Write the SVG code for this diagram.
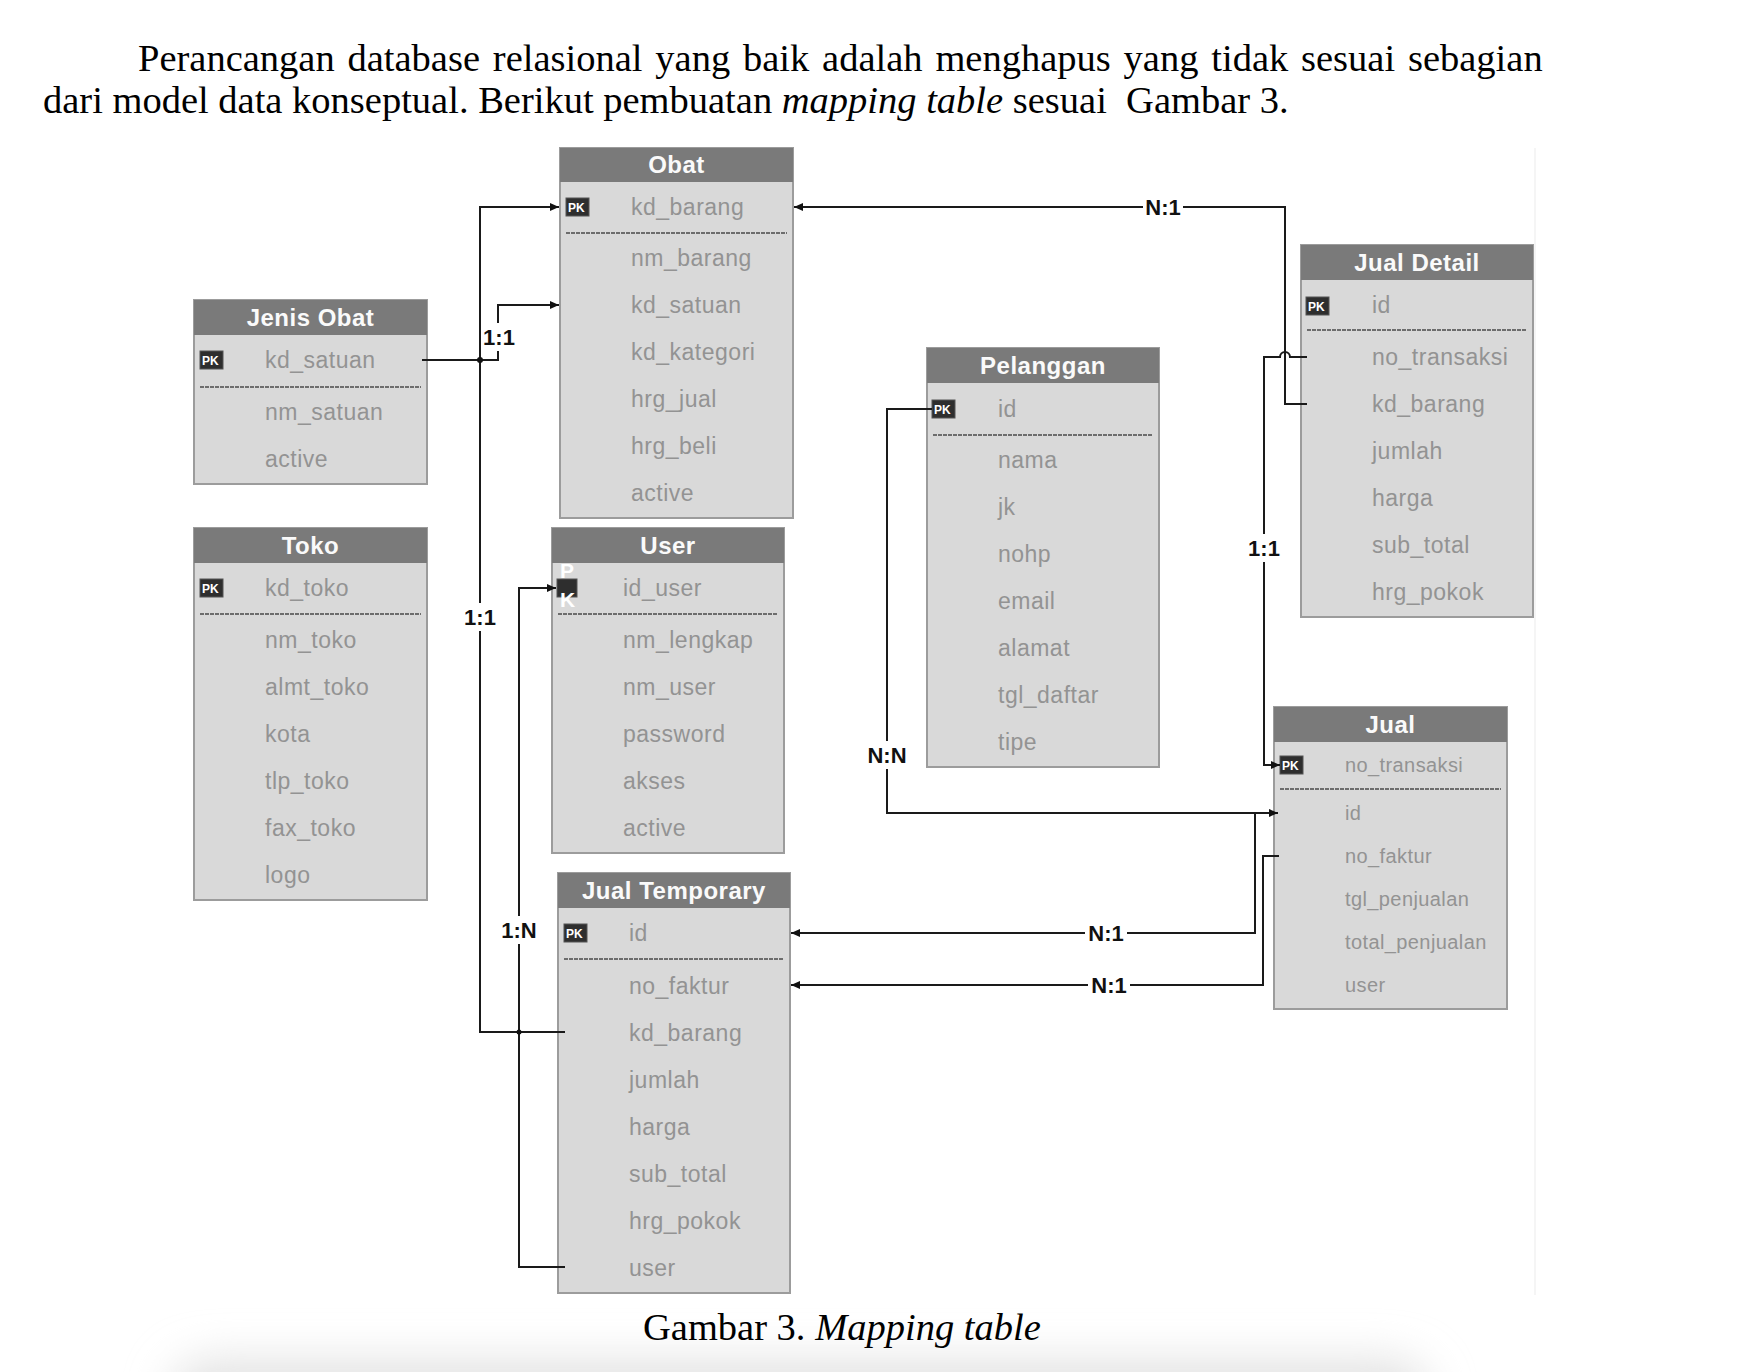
<svg xmlns="http://www.w3.org/2000/svg" width="1760" height="1372" viewBox="0 0 1760 1372">
<defs>
<style>
.serif{font-family:"Liberation Serif","Times New Roman",serif;font-size:38.5px;fill:#000}
.body{fill:#d9d9d9;stroke:#9c9c9c;stroke-width:2}
.hdr{fill:#7a7a7a}
.ht{font-family:"Liberation Sans",Arial,sans-serif;font-weight:bold;font-size:24px;fill:#fafafa;text-anchor:middle;letter-spacing:0.5px}
.f{font-family:"Liberation Sans",Arial,sans-serif;font-size:23px;fill:#939393;letter-spacing:0.5px}
.fs{font-family:"Liberation Sans",Arial,sans-serif;font-size:20px;fill:#939393;letter-spacing:0.4px}
.sep{stroke:#4a4a4a;stroke-width:1.6;stroke-dasharray:4 1}
.pk{fill:#2e2e2e;stroke:#555;stroke-width:1}
.pkt{font-family:"Liberation Sans",Arial,sans-serif;font-weight:bold;font-size:12px;fill:#fff}
.pkb{font-family:"Liberation Sans",Arial,sans-serif;font-weight:bold;font-size:21px;fill:#fff}
.ln{fill:none;stroke:#1a1a1a;stroke-width:2}
.lbl{font-family:"Liberation Sans",Arial,sans-serif;font-weight:bold;font-size:22px;fill:#111;text-anchor:middle}
.lb{fill:#fff}
</style>
<marker id="arr" markerUnits="userSpaceOnUse" markerWidth="10" markerHeight="8" refX="9" refY="4" orient="auto">
<path d="M0,0 L9,4 L0,8 z" fill="#111"/>
</marker>
<filter id="blur" x="-20%" y="-100%" width="140%" height="300%"><feGaussianBlur stdDeviation="22"/></filter>
</defs>
<rect width="1760" height="1372" fill="#fff"/>
<rect x="170" y="1360" width="1260" height="80" rx="40" fill="#e2e2e2" filter="url(#blur)"/>
<line x1="1535" y1="148" x2="1535" y2="1295" stroke="#f2f2f2" stroke-width="1.5"/>

<g id="title">
<text class="serif" x="138" y="71" word-spacing="3.2">Perancangan database relasional yang baik adalah menghapus yang tidak sesuai sebagian</text>
<text class="serif" x="43" y="113">dari model data konseptual. Berikut pembuatan <tspan font-style="italic">mapping table</tspan> sesuai <tspan dx="9.6">Gambar 3.</tspan></text>
</g>

<g id="node-obat">
<rect class="body" x="560" y="148" width="233" height="370"/>
<rect class="hdr" x="560" y="148" width="233" height="34"/>
<text class="ht" x="676.5" y="173">Obat</text>
<rect class="pk" x="566" y="198" width="23" height="18"/><text class="pkt" x="568" y="212">PK</text>
<text class="f" x="631" y="215">kd_barang</text>
<line class="sep" x1="566" y1="233" x2="787" y2="233"/>
<text class="f" x="631" y="266">nm_barang</text>
<text class="f" x="631" y="313">kd_satuan</text>
<text class="f" x="631" y="360">kd_kategori</text>
<text class="f" x="631" y="407">hrg_jual</text>
<text class="f" x="631" y="454">hrg_beli</text>
<text class="f" x="631" y="501">active</text>
</g>

<g id="node-jenis-obat">
<rect class="body" x="194" y="300" width="233" height="184"/>
<rect class="hdr" x="194" y="300" width="233" height="35"/>
<text class="ht" x="310.5" y="326">Jenis Obat</text>
<rect class="pk" x="200" y="351" width="23" height="18"/><text class="pkt" x="202" y="365">PK</text>
<text class="f" x="265" y="368">kd_satuan</text>
<line class="sep" x1="200" y1="387" x2="421" y2="387"/>
<text class="f" x="265" y="420">nm_satuan</text>
<text class="f" x="265" y="467">active</text>
</g>

<g id="node-toko">
<rect class="body" x="194" y="528" width="233" height="372"/>
<rect class="hdr" x="194" y="528" width="233" height="35"/>
<text class="ht" x="310.5" y="554">Toko</text>
<rect class="pk" x="200" y="579" width="23" height="18"/><text class="pkt" x="202" y="593">PK</text>
<text class="f" x="265" y="596">kd_toko</text>
<line class="sep" x1="200" y1="614" x2="421" y2="614"/>
<text class="f" x="265" y="648">nm_toko</text>
<text class="f" x="265" y="695">almt_toko</text>
<text class="f" x="265" y="742">kota</text>
<text class="f" x="265" y="789">tlp_toko</text>
<text class="f" x="265" y="836">fax_toko</text>
<text class="f" x="265" y="883">logo</text>
</g>

<g id="node-user">
<rect class="body" x="552" y="528" width="232" height="325"/>
<rect class="hdr" x="552" y="528" width="232" height="35"/>
<text class="ht" x="668" y="554">User</text>
<rect class="pk" x="557" y="579" width="20" height="18"/>
<text class="pkb" x="560" y="578">P</text>
<text class="pkb" x="560" y="607">K</text>
<text class="f" x="623" y="596">id_user</text>
<line class="sep" x1="558" y1="614" x2="778" y2="614"/>
<text class="f" x="623" y="648">nm_lengkap</text>
<text class="f" x="623" y="695">nm_user</text>
<text class="f" x="623" y="742">password</text>
<text class="f" x="623" y="789">akses</text>
<text class="f" x="623" y="836">active</text>
</g>

<g id="node-jual-temporary">
<rect class="body" x="558" y="873" width="232" height="420"/>
<rect class="hdr" x="558" y="873" width="232" height="35"/>
<text class="ht" x="674" y="899">Jual Temporary</text>
<rect class="pk" x="564" y="924" width="23" height="18"/><text class="pkt" x="566" y="938">PK</text>
<text class="f" x="629" y="941">id</text>
<line class="sep" x1="564" y1="959" x2="784" y2="959"/>
<text class="f" x="629" y="994">no_faktur</text>
<text class="f" x="629" y="1041">kd_barang</text>
<text class="f" x="629" y="1088">jumlah</text>
<text class="f" x="629" y="1135">harga</text>
<text class="f" x="629" y="1182">sub_total</text>
<text class="f" x="629" y="1229">hrg_pokok</text>
<text class="f" x="629" y="1276">user</text>
</g>

<g id="node-pelanggan">
<rect class="body" x="927" y="348" width="232" height="419"/>
<rect class="hdr" x="927" y="348" width="232" height="35"/>
<text class="ht" x="1043" y="374">Pelanggan</text>
<rect class="pk" x="932" y="400" width="23" height="18"/><text class="pkt" x="934" y="414">PK</text>
<text class="f" x="998" y="417">id</text>
<line class="sep" x1="933" y1="435" x2="1153" y2="435"/>
<text class="f" x="998" y="468">nama</text>
<text class="f" x="998" y="515">jk</text>
<text class="f" x="998" y="562">nohp</text>
<text class="f" x="998" y="609">email</text>
<text class="f" x="998" y="656">alamat</text>
<text class="f" x="998" y="703">tgl_daftar</text>
<text class="f" x="998" y="750">tipe</text>
</g>

<g id="node-jual-detail">
<rect class="body" x="1301" y="245" width="232" height="372"/>
<rect class="hdr" x="1301" y="245" width="232" height="35"/>
<text class="ht" x="1417" y="271">Jual Detail</text>
<rect class="pk" x="1306" y="297" width="23" height="18"/><text class="pkt" x="1308" y="311">PK</text>
<text class="f" x="1372" y="313">id</text>
<line class="sep" x1="1307" y1="330" x2="1527" y2="330"/>
<text class="f" x="1372" y="365">no_transaksi</text>
<text class="f" x="1372" y="412">kd_barang</text>
<text class="f" x="1372" y="459">jumlah</text>
<text class="f" x="1372" y="506">harga</text>
<text class="f" x="1372" y="553">sub_total</text>
<text class="f" x="1372" y="600">hrg_pokok</text>
</g>

<g id="node-jual">
<rect class="body" x="1274" y="707" width="233" height="302"/>
<rect class="hdr" x="1274" y="707" width="233" height="35"/>
<text class="ht" x="1390.5" y="733">Jual</text>
<rect class="pk" x="1280" y="756" width="23" height="18"/><text class="pkt" x="1282" y="770">PK</text>
<text class="fs" x="1345" y="772">no_transaksi</text>
<line class="sep" x1="1280" y1="789" x2="1501" y2="789"/>
<text class="fs" x="1345" y="820">id</text>
<text class="fs" x="1345" y="863">no_faktur</text>
<text class="fs" x="1345" y="906">tgl_penjualan</text>
<text class="fs" x="1345" y="949">total_penjualan</text>
<text class="fs" x="1345" y="992">user</text>
</g>

<g id="connectors">
<path class="ln" d="M565,1032 H480 V207 H559" marker-end="url(#arr)"/>
<path class="ln" d="M422,360 H498 V305 H559" marker-end="url(#arr)"/>
<circle cx="480" cy="360" r="3" fill="#111"/>
<path class="ln" d="M565,1267 H519 V588 H556" marker-end="url(#arr)"/>
<circle cx="519" cy="1032" r="2.5" fill="#111"/>
<path class="ln" d="M1307,404 H1285 V207 H794" marker-end="url(#arr)"/>
<path class="ln" d="M1307,357 H1290 A5,5 0 0 0 1280,357 H1264 V765 H1280" marker-end="url(#arr)"/>
<path class="ln" d="M932,409 H887 V813 H1278" marker-end="url(#arr)"/>
<path class="ln" d="M1255,813 V933 H791" marker-end="url(#arr)"/>
<path class="ln" d="M1279,856 H1263 V985 H791" marker-end="url(#arr)"/>

<rect class="lb" x="468" y="603" width="24" height="28"/>
<text class="lbl" x="480" y="625">1:1</text>
<rect class="lb" x="489" y="323" width="20" height="28"/>
<text class="lbl" x="499" y="345">1:1</text>
<rect class="lb" x="507" y="916" width="24" height="28"/>
<text class="lbl" x="519" y="938">1:N</text>
<rect class="lb" x="1143" y="195" width="40" height="24"/>
<text class="lbl" x="1163" y="215">N:1</text>
<rect class="lb" x="1252" y="534" width="24" height="28"/>
<text class="lbl" x="1264" y="556">1:1</text>
<rect class="lb" x="875" y="741" width="24" height="28"/>
<text class="lbl" x="887" y="763">N:N</text>
<rect class="lb" x="1085" y="921" width="42" height="24"/>
<text class="lbl" x="1106" y="941">N:1</text>
<rect class="lb" x="1088" y="973" width="42" height="24"/>
<text class="lbl" x="1109" y="993">N:1</text>
</g>

<text class="serif" x="643" y="1340">Gambar 3. <tspan font-style="italic">Mapping table</tspan></text>
</svg>
